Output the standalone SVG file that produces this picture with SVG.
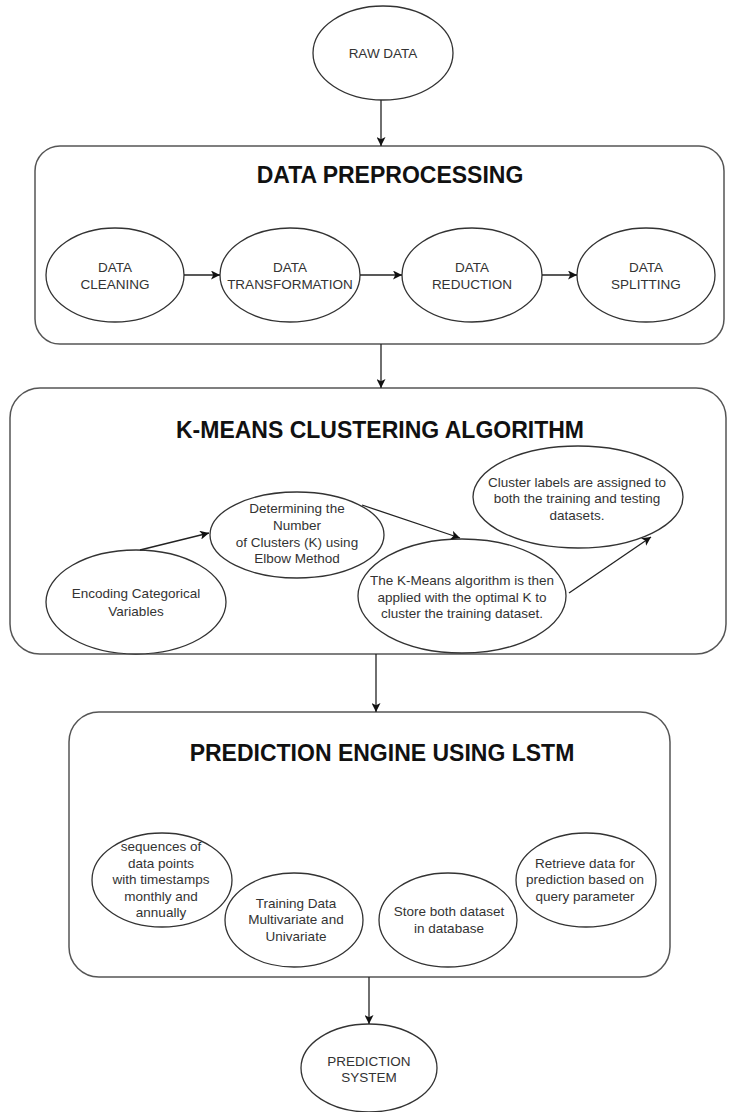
<svg xmlns="http://www.w3.org/2000/svg" width="732" height="1112" viewBox="0 0 732 1112">
<style>
.bg{fill:#ffffff}
.box{fill:#ffffff;stroke:#555555;stroke-width:1.5}
.node{fill:#ffffff;stroke:#333333;stroke-width:1.3}
.t{font-family:"Liberation Sans",Arial,sans-serif;font-size:13.5px;fill:#333333;text-anchor:middle}
.title{font-family:"Liberation Sans",Arial,sans-serif;font-size:23px;font-weight:bold;fill:#111111;text-anchor:middle}
.edge{stroke:#222222;stroke-width:1.3;fill:none;marker-end:url(#arrow)}
</style>
<defs>
<marker id="arrow" viewBox="0 0 10 10" refX="10" refY="5" markerWidth="9" markerHeight="9" markerUnits="userSpaceOnUse" orient="auto">
<path d="M0,0 L10,5 L0,10 L2.5,5 z" fill="#111111"/>
</marker>
</defs>
<rect class="bg" x="0" y="0" width="732" height="1112"/>

<g id="box-preprocessing">
<rect class="box" x="35" y="146" width="689" height="198" rx="25" ry="25"/>
<text class="title" x="390" y="183">DATA PREPROCESSING</text>
</g>
<g id="box-kmeans">
<rect class="box" x="10" y="388" width="716" height="266" rx="30" ry="30"/>
<text class="title" x="380" y="438">K-MEANS CLUSTERING ALGORITHM</text>
</g>
<g id="box-lstm">
<rect class="box" x="69" y="712" width="601" height="265" rx="30" ry="30"/>
<text class="title" x="382" y="761">PREDICTION ENGINE USING LSTM</text>
</g>

<g id="raw-data">
<ellipse class="node" cx="383" cy="53" rx="70" ry="47"/>
<text class="t" x="383" y="58">RAW DATA</text>
</g>
<g id="data-cleaning">
<ellipse class="node" cx="115" cy="275" rx="69" ry="47"/>
<text class="t" x="115" y="272">DATA</text>
<text class="t" x="115" y="289">CLEANING</text>
</g>
<g id="data-transformation">
<ellipse class="node" cx="290" cy="275" rx="70" ry="47"/>
<text class="t" x="290" y="272">DATA</text>
<text class="t" x="290" y="289">TRANSFORMATION</text>
</g>
<g id="data-reduction">
<ellipse class="node" cx="472" cy="275" rx="70" ry="47"/>
<text class="t" x="472" y="272">DATA</text>
<text class="t" x="472" y="289">REDUCTION</text>
</g>
<g id="data-splitting">
<ellipse class="node" cx="646" cy="275" rx="69" ry="47"/>
<text class="t" x="646" y="272">DATA</text>
<text class="t" x="646" y="289">SPLITTING</text>
</g>

<g id="cluster-labels">
<ellipse class="node" cx="578" cy="497" rx="105" ry="51"/>
<text class="t" x="577" y="487">Cluster labels are assigned to</text>
<text class="t" x="577" y="503">both the training and testing</text>
<text class="t" x="577" y="520">datasets.</text>
</g>
<g id="determining-k">
<ellipse class="node" cx="297" cy="535" rx="87" ry="43"/>
<text class="t" x="297" y="513">Determining the</text>
<text class="t" x="297" y="530">Number</text>
<text class="t" x="297" y="547">of Clusters (K) using</text>
<text class="t" x="297" y="563">Elbow Method</text>
</g>
<g id="encoding">
<ellipse class="node" cx="136" cy="602" rx="90" ry="52"/>
<text class="t" x="136" y="598">Encoding Categorical</text>
<text class="t" x="136" y="616">Variables</text>
</g>
<g id="kmeans-apply">
<ellipse class="node" cx="462" cy="596" rx="104" ry="57"/>
<text class="t" x="462" y="585">The K-Means algorithm is then</text>
<text class="t" x="462" y="602">applied with the optimal K to</text>
<text class="t" x="462" y="618">cluster the training dataset.</text>
</g>

<g id="sequences">
<ellipse class="node" cx="162" cy="880" rx="70" ry="47"/>
<text class="t" x="161" y="851">sequences of</text>
<text class="t" x="161" y="868">data points</text>
<text class="t" x="161" y="884">with timestamps</text>
<text class="t" x="161" y="901">monthly and</text>
<text class="t" x="161" y="917">annually</text>
</g>
<g id="training-data">
<ellipse class="node" cx="294" cy="920" rx="69" ry="47"/>
<text class="t" x="296" y="908">Training Data</text>
<text class="t" x="296" y="924">Multivariate and</text>
<text class="t" x="296" y="941">Univariate</text>
</g>
<g id="store-dataset">
<ellipse class="node" cx="448" cy="920" rx="69" ry="47"/>
<text class="t" x="449" y="916">Store both dataset</text>
<text class="t" x="449" y="933">in database</text>
</g>
<g id="retrieve-data">
<ellipse class="node" cx="586" cy="880" rx="70" ry="47"/>
<text class="t" x="585" y="868">Retrieve data for</text>
<text class="t" x="585" y="884">prediction based on</text>
<text class="t" x="585" y="901">query parameter</text>
</g>

<g id="prediction-system">
<ellipse class="node" cx="369" cy="1068" rx="68" ry="44"/>
<text class="t" x="369" y="1066">PREDICTION</text>
<text class="t" x="369" y="1082">SYSTEM</text>
</g>

<g id="connectors">
<line class="edge" x1="381" y1="100" x2="381" y2="146"/>
<line class="edge" x1="184" y1="275" x2="220" y2="275"/>
<line class="edge" x1="360" y1="275" x2="402" y2="275"/>
<line class="edge" x1="542" y1="275" x2="577" y2="275"/>
<line class="edge" x1="381" y1="344" x2="381" y2="388"/>
<line class="edge" x1="140" y1="550" x2="209" y2="533"/>
<line class="edge" x1="362" y1="505" x2="460" y2="538"/>
<line class="edge" x1="569" y1="593" x2="651" y2="537"/>
<line class="edge" x1="376" y1="654" x2="376" y2="712"/>
<line class="edge" x1="369" y1="977" x2="369" y2="1024"/>
</g>
</svg>
